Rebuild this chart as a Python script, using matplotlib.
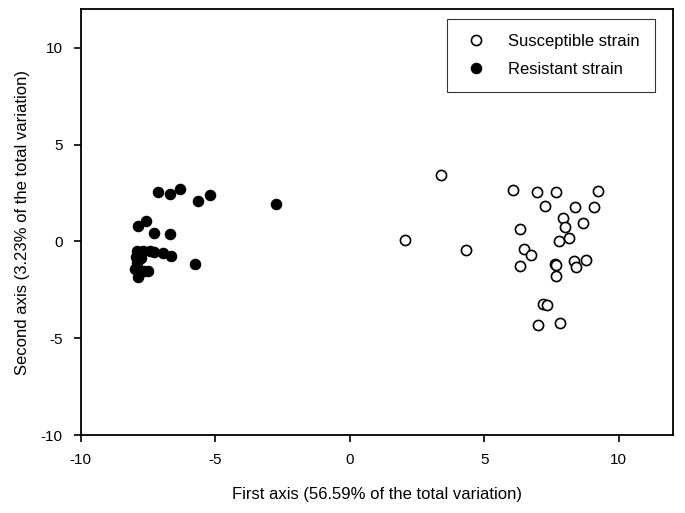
import matplotlib
matplotlib.use("Agg")
import matplotlib.pyplot as plt

plt.rcParams['font.family'] = ['Liberation Sans', 'DejaVu Sans']
plt.rcParams['axes.unicode_minus'] = False

# Susceptible strain (open circles)
sus_x = [3.40, 2.05, 4.33, 6.08, 6.94, 7.66, 9.24, 7.26, 8.38, 9.07,
         7.94, 7.98, 8.65, 8.14, 7.78, 6.33, 6.49, 6.75, 6.33, 7.63,
         7.68, 8.35, 8.42, 8.79, 7.67, 7.17, 7.32, 7.00, 7.83]
sus_y = [3.45, 0.10, -0.43, 2.64, 2.55, 2.54, 2.60, 1.82, 1.80, 1.80,
         1.22, 0.74, 0.97, 0.19, 0.05, 0.64, -0.40, -0.72, -1.26, -1.15,
         -1.19, -1.02, -1.33, -0.95, -1.80, -3.22, -3.28, -4.34, -4.21]

# Resistant strain (filled circles)
res_x = [-7.15, -6.69, -6.33, -5.63, -5.20, -2.76, -7.56, -7.86, -7.28, -6.68,
         -6.94, -6.63, -5.74, -7.91, -7.69, -7.43, -7.28, -7.95, -7.77, -7.91,
         -8.00, -7.82, -7.89, -7.67, -7.49]
res_y = [2.55, 2.44, 2.69, 2.11, 2.42, 1.95, 1.05, 0.80, 0.43, 0.40,
         -0.57, -0.77, -1.14, -0.47, -0.47, -0.47, -0.52, -0.78, -0.83, -1.09,
         -1.40, -1.50, -1.81, -1.55, -1.50]

x_ticks = [-10, -5, 0, 5, 10]
y_ticks = [-10, -5, 0, 5, 10]

fig = plt.figure(figsize=(6.85, 5.13), dpi=100)
ax = fig.add_axes([0.118, 0.152, 0.864, 0.830])

ax.plot(sus_x, sus_y, linestyle='none', marker='o', markersize=7.3,
        markerfacecolor='white', markeredgecolor='black', markeredgewidth=1.2,
        label='Susceptible strain')
ax.plot(res_x, res_y, linestyle='none', marker='o', markersize=7.3,
        markerfacecolor='black', markeredgecolor='black', markeredgewidth=1.0,
        label='Resistant strain')

ax.set_xlim(-10, 12)
ax.set_ylim(-10, 12)
ax.set_xticks(x_ticks)
ax.set_yticks(y_ticks)
ax.tick_params(direction='out', length=5, width=1.2, labelsize=11, pad=8,
               top=False, right=False)
for s in ax.spines.values():
    s.set_linewidth(1.3)

ax.set_xlabel('First axis (56.59% of the total variation)', fontsize=12, labelpad=14)
ax.set_ylabel('Second axis (3.23% of the total variation)', fontsize=12, labelpad=8)

leg = ax.legend(loc='upper right', bbox_to_anchor=(0.9696, 0.9765),
                borderaxespad=0, frameon=True, fancybox=False,
                edgecolor='black', fontsize=12, handlelength=1.6,
                handletextpad=1.15, borderpad=0.9, labelspacing=0.74,
                numpoints=1)
leg.get_frame().set_linewidth(0.8)

fig.savefig('out.png', dpi=100)
